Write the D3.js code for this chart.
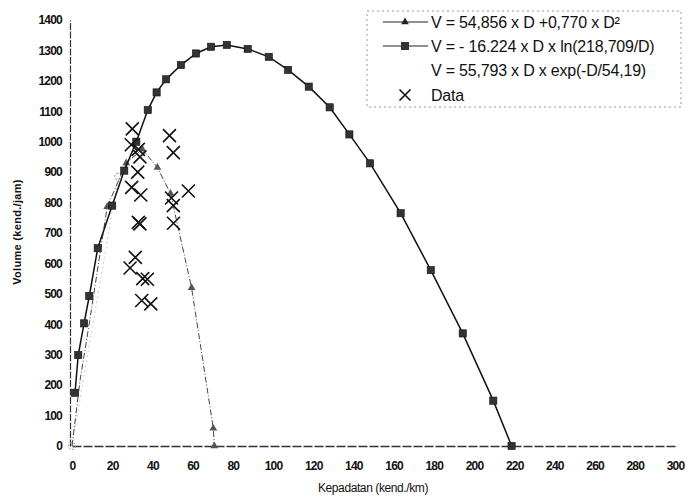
<!DOCTYPE html>
<html>
  <head>
    <meta charset="utf-8">
    <title>Volume - Kepadatan</title>
    <style media="screen">
      body {margin:0; background:#fff}
      text {font-family: Arial, "Liberation Sans", sans-serif; fill:#111}
      .tick text {font-size:12px; font-weight:bold; letter-spacing:-0.8px}
    </style>
  </head>
  <body>
    <script src="https://cdn.jsdelivr.net/npm/d3@7"></script>
    <script type="text/javascript">

    // Greenshields (triangle markers)
    const triD = [0, 4, 9, 17.5, 27, 35, 42.5, 49, 59.5, 70.3, 70.8]
    const triV = [0, 215, 420, 786, 930, 975, 915, 830, 520, 58, 0]

    // Greenberg (square markers)
    const sqD = [1.5, 3.1, 6, 8.6, 12.8, 20, 26, 32, 37.7, 42.1, 46.8, 54.2, 61.7, 69.2, 77, 87.4,
                 97.9, 107.5, 117.8, 128.2, 138, 148.3, 163.5, 178.5, 194.4, 209.6, 218.7]
    const sqV = [175, 299, 403, 493, 650, 790, 905, 1000, 1104, 1162, 1205, 1252, 1290, 1312, 1318, 1305,
                 1279, 1236, 1181, 1113, 1024, 929, 765, 578, 370, 149, 0]

    // Underwood (barely visible in the scan)
    const expD = [0, 23]
    const expV = [0, 885]

    // observed data (crosses)
    const dataD = [30, 29.5, 33, 33.8, 32.7, 29.7, 34.2, 33, 33.8, 31.5, 28.9, 35.2, 37.5, 34.7, 39.2,
                   48.5, 50.4, 57.9, 49.5, 50.4, 50.5]
    const dataV = [1042, 990, 975, 950, 900, 850, 825, 735, 730, 620, 585, 550, 548, 478, 467,
                   1020, 964, 838, 815, 790, 732]

    const xTicks = d3.range(0, 301, 20)
    const yTicks = d3.range(0, 1401, 100)

    const legendLabels = [
      'V = 54,856 x D +0,770 x D\u00b2',
      'V = - 16.224 x D  x ln(218,709/D)',
      'V = 55,793 x D x exp(-D/54,19)',
      'Data'
    ]

    const w = 688, h = 500
    const svg = d3.select('body').append('svg').attr('width', w).attr('height', h)

    const x = d3.scaleLinear().domain([0, 300]).range([72, 675])
    const y = d3.scaleLinear().domain([0, 1400]).range([446, 20])

    // axes
    const gx = svg.append('g').attr('transform', `translate(0,${y(0)})`)
      .call(d3.axisBottom(x).tickValues(xTicks).tickFormat(d3.format('d')).tickSize(0).tickPadding(15))
    gx.select('.domain').attr('stroke', '#333').attr('stroke-width', 1.3).attr('stroke-dasharray', '9,2')

    const gy = svg.append('g').attr('transform', `translate(${x(0) - 2},0)`)
      .call(d3.axisLeft(y).tickValues(yTicks).tickFormat(d3.format('d')).tickSize(0).tickPadding(8))
    gy.select('.domain').attr('stroke', '#333').attr('stroke-width', 1.2).attr('stroke-dasharray', '7,1.5')

    svg.append('text').attr('x', 373).attr('y', 492).attr('text-anchor', 'middle')
      .style('font-size', '12px').style('letter-spacing', '-0.4px').text('Kepadatan (kend./km)')

    svg.append('text').attr('transform', 'translate(21,232) rotate(-90)').attr('text-anchor', 'middle')
      .style('font-size', '11px').style('font-weight', 'bold').style('letter-spacing', '0.3px')
      .text('Volume (kend./jam)')

    const zip = (a, b) => a.map((d, i) => [d, b[i]])
    const line = d3.line().x(d => x(d[0])).y(d => y(d[1]))

    const tri = zip(triD, triV), sq = zip(sqD, sqV), ex = zip(expD, expV), pts = zip(dataD, dataV)

    // exp series, faint
    svg.append('path').attr('d', line(ex)).attr('fill', 'none')
      .attr('stroke', '#ccc').attr('stroke-width', 1).attr('stroke-dasharray', '2,3')
    svg.selectAll('.ec').data(ex).join('circle')
      .attr('cx', d => x(d[0])).attr('cy', d => y(d[1])).attr('r', 3.5)
      .attr('fill', 'none').attr('stroke', '#888').attr('stroke-width', 1).attr('stroke-dasharray', '2,1.5')

    // triangle series
    svg.append('path').attr('d', line(tri)).attr('fill', 'none')
      .attr('stroke', '#444').attr('stroke-width', 1).attr('stroke-dasharray', '6,2,1,2')
    const triSym = d3.symbol(d3.symbolTriangle, 26)
    svg.selectAll('.tm').data(tri.slice(3)).join('path')
      .attr('d', triSym).attr('transform', d => `translate(${x(d[0])},${y(d[1])})`)
      .attr('fill', '#555')

    // square series
    svg.append('path').attr('d', line(sq)).attr('fill', 'none')
      .attr('stroke', '#111').attr('stroke-width', 1.5)
    svg.selectAll('.sm').data(sq).join('rect')
      .attr('x', d => x(d[0]) - 3.6).attr('y', d => y(d[1]) - 3.6)
      .attr('width', 7.2).attr('height', 7.2).attr('fill', '#333')
      .attr('stroke', '#111').attr('stroke-width', 0.6)

    // data crosses
    const cross = (g, cx, cy, r) => g.append('path')
      .attr('d', `M${cx - r},${cy - r}L${cx + r},${cy + r}M${cx - r},${cy + r}L${cx + r},${cy - r}`)
      .attr('stroke', '#111').attr('stroke-width', 1.6).attr('fill', 'none')
    pts.forEach(d => cross(svg, x(d[0]), y(d[1]), 6.5))

    // legend
    const lg = svg.append('g')
    lg.append('rect').attr('x', 367).attr('y', 11).attr('width', 314).attr('height', 96)
      .attr('fill', '#fff').attr('stroke', '#999').attr('stroke-width', 1).attr('stroke-dasharray', '2,3')
    const rowY = [22, 46, 70, 95]
    lg.append('line').attr('x1', 383).attr('x2', 428).attr('y1', rowY[0]).attr('y2', rowY[0])
      .attr('stroke', '#222').attr('stroke-width', 1)
    lg.append('path').attr('d', triSym).attr('transform', `translate(405,${rowY[0]})`).attr('fill', '#222')
    lg.append('line').attr('x1', 383).attr('x2', 428).attr('y1', rowY[1]).attr('y2', rowY[1])
      .attr('stroke', '#222').attr('stroke-width', 1.2)
    lg.append('rect').attr('x', 401).attr('y', rowY[1] - 4).attr('width', 8).attr('height', 8).attr('fill', '#333')
    cross(lg, 405, rowY[3], 5.5)

    lg.selectAll('.lt').data(legendLabels).join('text')
      .attr('x', 431).attr('y', (d, i) => rowY[i] + 5.5)
      .style('font-size', '16px').style('letter-spacing', '-0.2px')
      .text(d => d)

    </script>
  </body>
</html>
